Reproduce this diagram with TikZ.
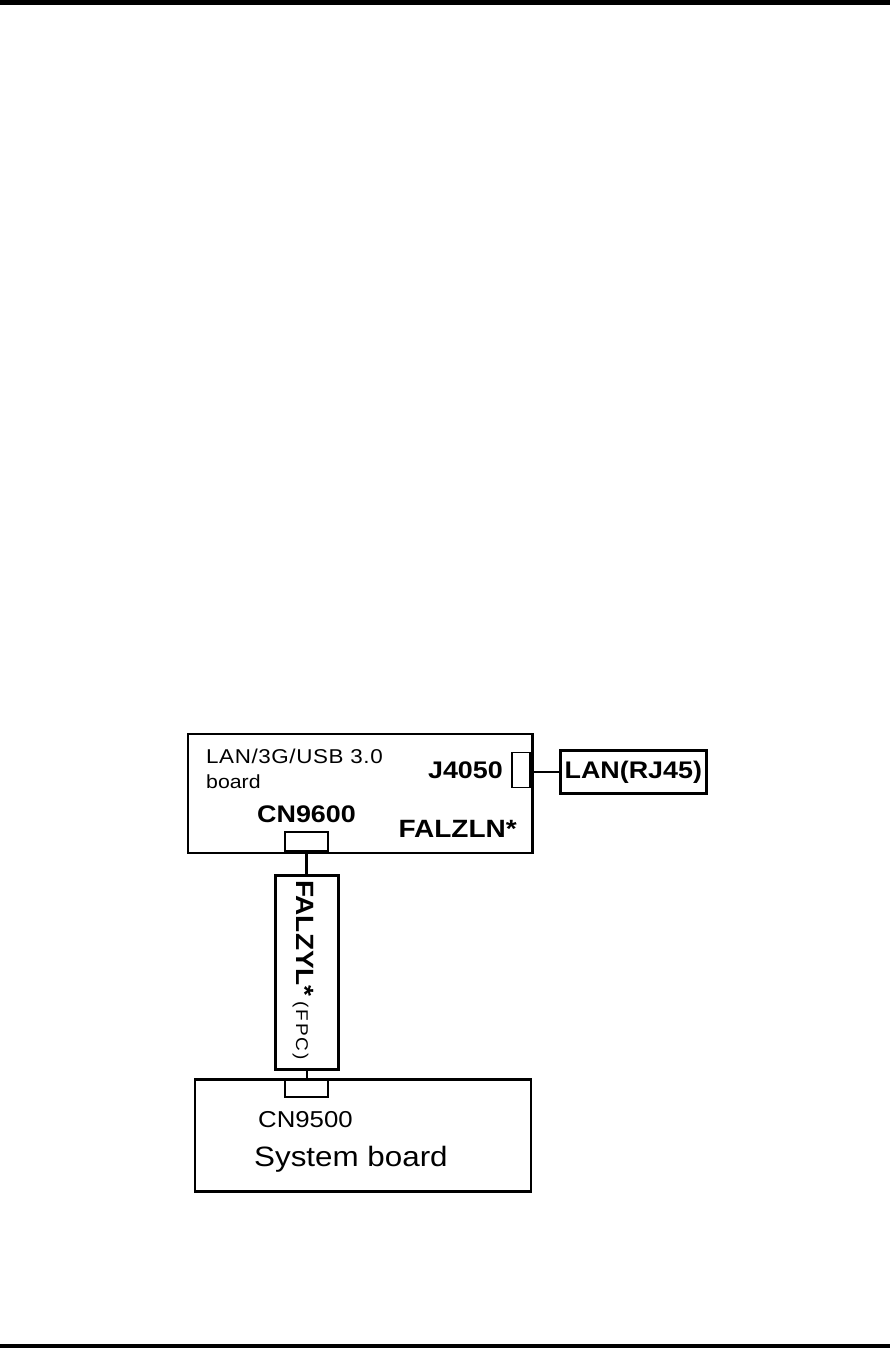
\documentclass[tikz,border=0pt]{standalone}
\usepackage{fontspec}
\setmainfont{Liberation Sans}[FakeStretch=1.12]
\begin{document}
\begin{tikzpicture}[x=1pt,y=-1pt,
  box/.style={draw,line width=2.6pt,inner sep=0pt},
  conn/.style={draw,line width=1.8pt,inner sep=0pt},
  wire/.style={line width=2.4pt},
  lbl/.style={inner sep=0pt,anchor=base west}]
\useasboundingbox (0,0) rectangle (890,1348);
\fill (0,0) rectangle (890,5);
\fill (0,1344) rectangle (890,1348);
% LAN board
\node[box,anchor=north west,minimum width=344.5pt,minimum height=119pt] (lanb) at (186.5,732.5) {};
\node[lbl,font=\fontsize{20}{20}\selectfont\addfontfeature{LetterSpace=3}] (t1) at (206,763) {LAN/3G/USB 3.0};
\node[lbl,font=\fontsize{19}{19}\selectfont] (t2) at (206,788) {board};
\node[lbl,anchor=base east,font=\bfseries\fontsize{24}{24}\selectfont] (j4050t) at (503,778) {J4050};
\node[lbl,font=\bfseries\fontsize{24}{24}\selectfont] (cn9600t) at (257,822) {CN9600};
\node[lbl,anchor=base east,font=\bfseries\fontsize{25}{25}\selectfont] (falzln) at (517,837) {FALZLN*};
% J4050 connector
\node[conn,anchor=north east,minimum width=18pt,minimum height=35pt] (j4050) at (531,751.5) {};
\node[box,anchor=north west,minimum width=146pt,minimum height=43pt,font=\bfseries\fontsize{24}{24}\selectfont] (rj45) at (559,749) {LAN(RJ45)};
\draw[wire] (rj45.west) -- (rj45.west -| j4050.east);
% CN9600 connector
\node[conn,anchor=south west,minimum width=43pt,minimum height=18.5pt] (cn9600) at (284,851.5) {};
% FPC
\node[box,anchor=north west,minimum width=63pt,minimum height=194pt] (fpc) at (274,874) {};
\node[lbl,rotate=-90] (fpct) at (296,880) {\bfseries\fontsize{25}{25}\selectfont FALZYL*\,{\mdseries\fontsize{17}{17}\selectfont\addfontfeature{LetterSpace=12}(FPC)}};
\draw[wire] (cn9600.south) -- (cn9600.south |- fpc.north);
% System board
\node[box,anchor=north west,minimum width=336pt,minimum height=112pt] (sys) at (193.5,1078) {};
\node[conn,anchor=north west,minimum width=43pt,minimum height=18pt] (cn9500) at (284,1078) {};
\draw[wire] (fpc.south) -- (fpc.south |- cn9500.north);
\node[lbl,font=\fontsize{23}{23}\selectfont] (cn9500t) at (258,1127) {CN9500};
\node[lbl,font=\fontsize{28}{28}\selectfont] (syst) at (254,1166) {System board};
\end{tikzpicture}
\end{document}
